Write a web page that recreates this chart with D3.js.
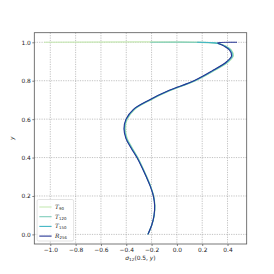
<!DOCTYPE html>
<html>
<head>
<meta charset="utf-8">
<script src="https://cdn.jsdelivr.net/npm/d3@7"></script>
<style>
  body { margin: 0; background: #fff; }
  text { font-family: "DejaVu Sans", sans-serif; }
</style>
</head>
<body>
<div id="chart-area"></div>
<script>
// profile of sigma_12 along x = 0.5
var yVals = [0, 0.05, 0.1, 0.15, 0.2, 0.25, 0.3, 0.35, 0.4, 0.45, 0.5, 0.55, 0.6,
             0.65, 0.7, 0.75, 0.8, 0.85, 0.9, 0.93, 0.96, 0.98, 0.99, 0.997, 1.0];

var t90  = [-0.229, -0.197, -0.178, -0.174, -0.183, -0.206, -0.237, -0.271, -0.308, -0.352, -0.392, -0.407, -0.391,
            -0.334, -0.206, -0.047, 0.148, 0.290, 0.411, 0.447, 0.431, 0.390, 0.350, 0.290, -1.05];
var t120 = [-0.229, -0.197, -0.179, -0.175, -0.184, -0.207, -0.239, -0.273, -0.311, -0.355, -0.396, -0.411, -0.395,
            -0.338, -0.210, -0.051, 0.144, 0.285, 0.406, 0.443, 0.427, 0.386, 0.348, 0.295, -0.21];
var t150 = [-0.229, -0.198, -0.180, -0.175, -0.185, -0.209, -0.241, -0.275, -0.313, -0.359, -0.400, -0.415, -0.399,
            -0.342, -0.215, -0.056, 0.139, 0.280, 0.400, 0.437, 0.421, 0.380, 0.346, 0.300, 0.16];
var r256 = [-0.229, -0.198, -0.180, -0.176, -0.186, -0.210, -0.242, -0.277, -0.316, -0.362, -0.403, -0.418, -0.402,
            -0.345, -0.218, -0.060, 0.135, 0.275, 0.395, 0.432, 0.415, 0.372, 0.342, 0.322, 0.475];

var seriesNames = ["T", "T", "T", "R"];
var seriesSubs = ["90", "120", "150", "256"];
var seriesColors = ["#c7e9b4", "#7fcdbb", "#41b6c4", "#253494"];
var allSeries = [t90, t120, t150, r256];

var xTicks = [-1.0, -0.8, -0.6, -0.4, -0.2, 0.0, 0.2, 0.4];
var yTicks = [0.0, 0.2, 0.4, 0.6, 0.8, 1.0];

var margin = { left: 34.3, right: 27.3, top: 32.7, bottom: 30 };
var width = 274 - margin.left - margin.right,
    height = 274 - margin.top - margin.bottom;

var svg = d3.select("#chart-area")
    .append("svg")
        .attr("width", 274)
        .attr("height", 274);

var g = svg.append("g")
    .attr("transform", "translate(" + margin.left + ", " + margin.top + ")");

var x = d3.scaleLinear()
    .domain([-1.1265, 0.5515])
    .range([0, width]);

var y = d3.scaleLinear()
    .domain([-0.05, 1.05])
    .range([height, 0]);

// grid
g.append("g").selectAll("line")
    .data(xTicks).enter()
    .append("line")
        .attr("x1", function(d){ return x(d); })
        .attr("x2", function(d){ return x(d); })
        .attr("y1", 0).attr("y2", height)
        .attr("stroke", "#999")
        .attr("stroke-width", 0.6)
        .attr("stroke-dasharray", "1.2,1.2");
g.append("g").selectAll("line")
    .data(yTicks).enter()
    .append("line")
        .attr("y1", function(d){ return y(d); })
        .attr("y2", function(d){ return y(d); })
        .attr("x1", 0).attr("x2", width)
        .attr("stroke", "#999")
        .attr("stroke-width", 0.6)
        .attr("stroke-dasharray", "1.2,1.2");

// curves
var line = d3.line()
    .x(function(d){ return x(d[0]); })
    .y(function(d){ return y(d[1]); })
    .curve(d3.curveCatmullRom.alpha(0.5));

allSeries.forEach(function(s, i){
    g.append("path")
        .datum(s.map(function(v, j){ return [v, yVals[j]]; }))
        .attr("fill", "none")
        .attr("stroke", seriesColors[i])
        .attr("stroke-width", 1.1)
        .attr("d", line);
});

// axes
var xAxisCall = d3.axisBottom(x)
    .tickValues(xTicks)
    .tickSize(2)
    .tickPadding(1.5)
    .tickFormat(d3.format(".1f"));
var xa = g.append("g")
    .attr("transform", "translate(0, " + height + ")")
    .call(xAxisCall);

var yAxisCall = d3.axisLeft(y)
    .tickValues(yTicks)
    .tickSize(2)
    .tickPadding(1.5)
    .tickFormat(d3.format(".1f"));
var ya = g.append("g")
    .call(yAxisCall);

[xa, ya].forEach(function(a){
    a.select(".domain").remove();
    a.selectAll("line").attr("stroke", "#333").attr("stroke-width", 0.6);
    a.selectAll("text").attr("font-size", "5.9px").attr("fill", "#222")
        .attr("font-family", "DejaVu Sans, sans-serif");
});

// frame
g.append("rect")
    .attr("width", width).attr("height", height)
    .attr("fill", "none")
    .attr("stroke", "#555")
    .attr("stroke-width", 0.8);

// X Label
var xl = g.append("text")
    .attr("x", width / 2)
    .attr("y", height + 16)
    .attr("font-size", "5.9px")
    .attr("text-anchor", "middle")
    .attr("fill", "#222");
xl.append("tspan").attr("font-style", "italic").text("σ");
xl.append("tspan").attr("font-size", "4.2px").attr("dy", 1.2).text("12");
xl.append("tspan").attr("dy", -1.2).text("(0.5, ");
xl.append("tspan").attr("font-style", "italic").text("y");
xl.append("tspan").text(")");

// Y Label
g.append("text")
    .attr("x", -(height / 2))
    .attr("y", -20)
    .attr("font-size", "5.9px")
    .attr("font-style", "italic")
    .attr("text-anchor", "middle")
    .attr("transform", "rotate(-90)")
    .attr("fill", "#222")
    .text("y");

// legend
var lg = g.append("g")
    .attr("transform", "translate(" + 2.8 + ", " + (height - 44.5) + ")");
lg.append("rect")
    .attr("width", 36.5).attr("height", 41.5)
    .attr("rx", 1.5)
    .attr("fill", "#fff").attr("fill-opacity", 0.85)
    .attr("stroke", "#d0d0d0").attr("stroke-width", 0.6);

seriesNames.forEach(function(n, i){
    var yy = 7.5 + i * 9.7;
    lg.append("line")
        .attr("x1", 2.2).attr("x2", 14.5)
        .attr("y1", yy).attr("y2", yy)
        .attr("stroke", seriesColors[i])
        .attr("stroke-width", 1.1);
    var t = lg.append("text")
        .attr("x", 18)
        .attr("y", yy + 1.8)
        .attr("font-size", "5.8px")
        .attr("fill", "#222");
    t.append("tspan").attr("font-family", "DejaVu Serif, serif")
        .attr("font-style", "italic").text(n);
    t.append("tspan").attr("font-size", "3.9px").attr("dy", 1.2).text(seriesSubs[i]);
});
</script>
</body>
</html>
